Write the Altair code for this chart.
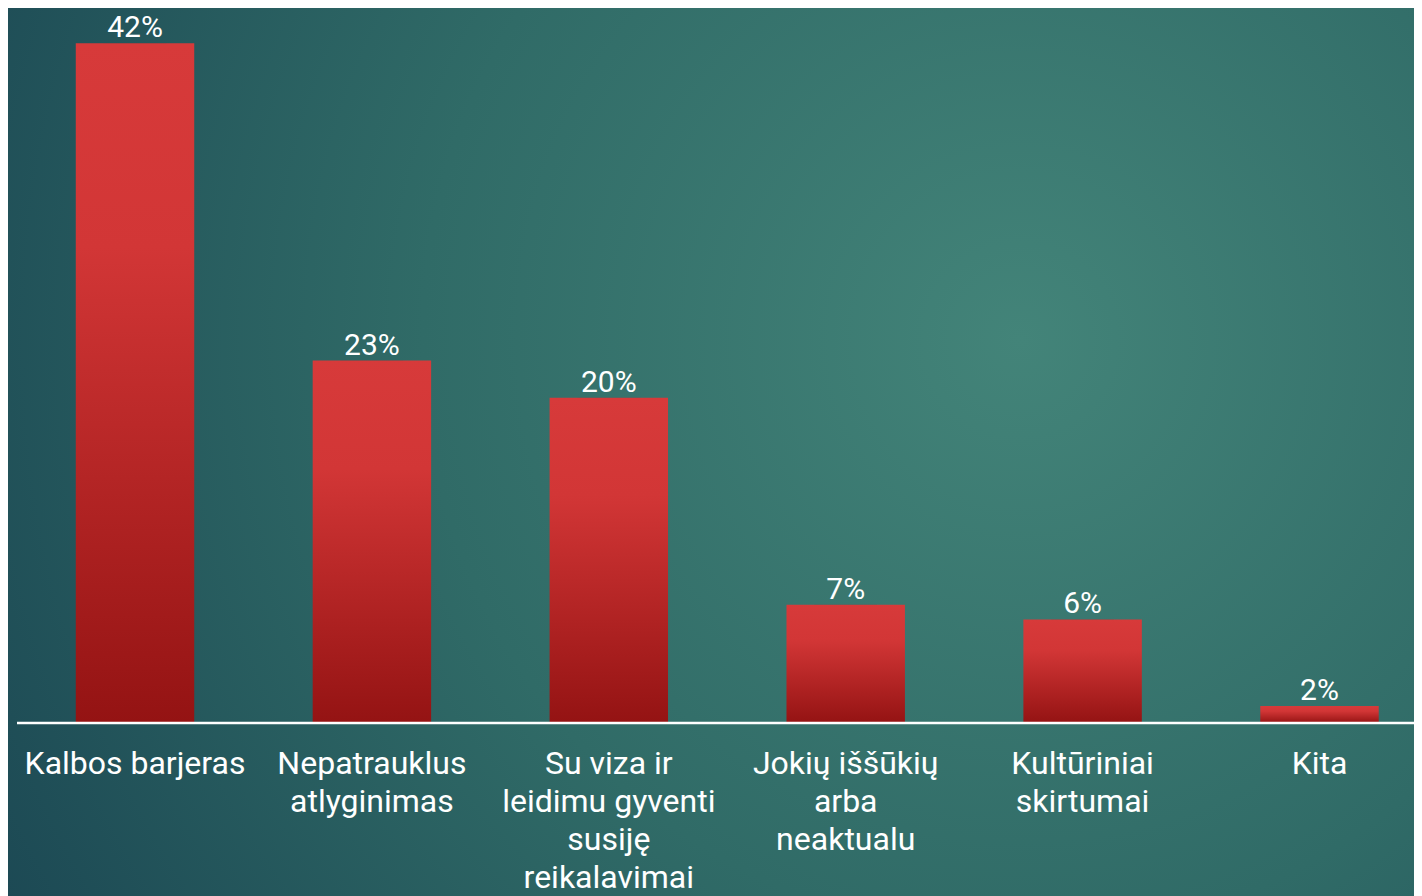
import altair as alt
import pandas as pd

categories = [
    "Kalbos barjeras",
    "Nepatrauklus\natlyginimas",
    "Su viza ir\nleidimu gyventi\nsusiję\nreikalavimai",
    "Jokių iššūkių\narba\nneaktualu",
    "Kultūriniai\nskirtumai",
    "Kita",
]
values = [42.0, 22.4, 20.1, 7.3, 6.4, 1.05]
value_labels = ["42%", "23%", "20%", "7%", "6%", "2%"]

df = pd.DataFrame({"cat": categories, "val": values, "lab": value_labels})

FONT = "Roboto"
W, H = 1397, 712
PAD = {"left": 9, "top": 3, "right": 0, "bottom": 173}

xscale = alt.Scale(domain=categories, paddingInner=0.5, paddingOuter=0.1985, align=0.625)
yscale = alt.Scale(domain=[0, 44], nice=False)

x_noaxis = alt.X("cat:N", scale=xscale, axis=None, sort=None)

bg_grad = alt.Gradient(
    gradient="radial",
    x1=0.72, y1=0.42, r1=0,
    x2=0.72, y2=0.42, r2=0.85,
    stops=[
        alt.GradientStop(color="#438479", offset=0),
        alt.GradientStop(color="#306B67", offset=0.5),
        alt.GradientStop(color="#1B4753", offset=1),
    ],
)

background = alt.Chart(alt.Data(values=[{"a": 1}])).mark_rect(fill=bg_grad).encode(
    x=alt.value(-PAD["left"]),
    x2=alt.value(W + PAD["right"]),
    y=alt.value(-PAD["top"]),
    y2=alt.value(H + PAD["bottom"]),
)

base = alt.Chart(df)

shadow = base.mark_bar(
    width=alt.RelativeBandSize(0.53), color="#000000", opacity=0.12
).encode(x=x_noaxis, y=alt.Y("val:Q", scale=yscale, axis=None))

bar_grad = alt.Gradient(
    gradient="linear",
    x1=0, y1=0, x2=0, y2=1,
    stops=[
        alt.GradientStop(color="#D73A3A", offset=0),
        alt.GradientStop(color="#D23636", offset=0.3),
        alt.GradientStop(color="#941313", offset=1),
    ],
)

bars = base.mark_bar(fill=bar_grad).encode(
    x=x_noaxis,
    y=alt.Y("val:Q", scale=yscale, axis=None),
)

baseline = alt.Chart(alt.Data(values=[{"a": 1}])).mark_rule(
    color="#FFFFFF", strokeWidth=2.5
).encode(
    x=alt.value(0),
    x2=alt.value(W),
    y=alt.value(H),
)

vlabels = base.mark_text(
    font=FONT, fontSize=30, color="#FFFFFF", baseline="alphabetic", dy=-6
).encode(x=x_noaxis, y=alt.Y("val:Q", scale=yscale, axis=None), text="lab:N")

clabels = base.mark_text(
    font=FONT, fontSize=32, color="#FFFFFF", baseline="alphabetic",
    lineBreak="\n", lineHeight=38, dy=51, align="center",
).encode(x=x_noaxis, y=alt.datum(0, scale=yscale), text="cat:N")

chart = (
    alt.layer(background, shadow, bars, baseline, vlabels, clabels)
    .properties(width=W, height=H, padding=PAD, autosize="none")
    .configure_view(stroke=None)
)

chart.save("out.html", embed_options={"renderer": "svg", "actions": False})
